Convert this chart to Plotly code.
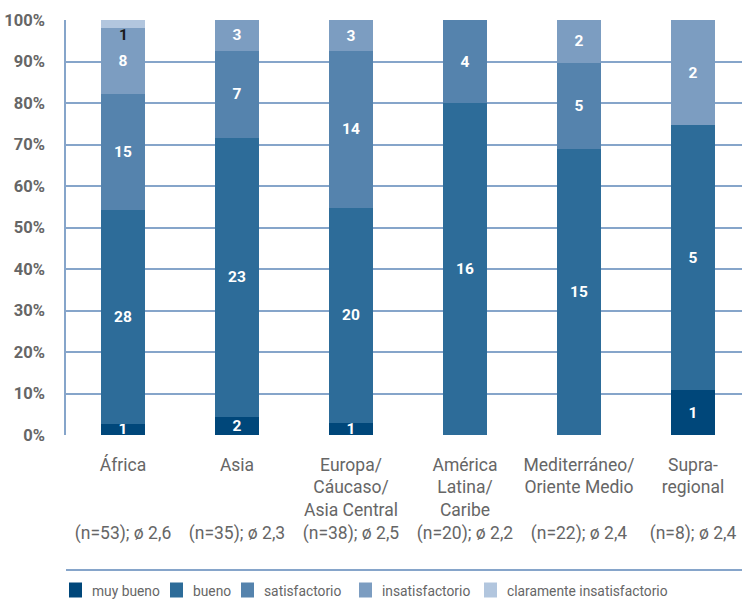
import plotly.graph_objects as go

# ---------------- data ----------------
categories = ["África", "Asia", "Europa/<br>Cáucaso/<br>Asia Central",
              "América<br>Latina/<br>Caribe", "Mediterráneo/<br>Oriente Medio",
              "Supra-<br>regional"]
n_labels = ["(n=53); ø 2,6", "(n=35); ø 2,3", "(n=38); ø 2,5",
            "(n=20); ø 2,2", "(n=22); ø 2,4", "(n=8); ø 2,4"]
series_names = ["muy bueno", "bueno", "satisfactorio", "insatisfactorio",
                "claramente insatisfactorio"]

# share of projects per rating (%)
muy_bueno_pct = [2.7, 4.4, 2.8, 0, 0, 10.8]
bueno_pct = [51.5, 67.2, 52.0, 80.0, 68.9, 63.9]
satisfactorio_pct = [28.0, 21.0, 37.7, 20.0, 20.8, 0]
insatisfactorio_pct = [15.9, 7.4, 7.5, 0, 10.3, 25.3]
claramente_pct = [1.9, 0, 0, 0, 0, 0]

# number of projects (segment labels)
muy_bueno_n = [1, 2, 1, 0, 0, 1]
bueno_n = [28, 23, 20, 16, 15, 5]
satisfactorio_n = [15, 7, 14, 4, 5, 0]
insatisfactorio_n = [8, 3, 3, 0, 2, 2]
claramente_n = [1, 0, 0, 0, 0, 0]

y_ticks = [0, 10, 20, 30, 40, 50, 60, 70, 80, 90, 100]
y_tick_labels = [f"{v}%" for v in y_ticks]

# ---------------- style ----------------
FONT = "Roboto, Liberation Sans, sans-serif"
colors = ["#00477a", "#2d6c99", "#5583ad", "#7c9dc1", "#b2c6de"]
grid_color = "#86a5ca"
text_gray = "#666666"

# plot area in pixels (for placing the hand-drawn legend)
W, H = 742, 608
ML, MR, MT, MB = 66, 0, 20, 173
PW, PH = W - ML - MR, H - MT - MB


def px_x(px):
    return (px - ML) / PW


def px_y(py):
    return (H - MB - py) / PH


legend_square_x = [69, 170, 241, 359, 484]   # left edge of each legend swatch (px)
legend_y = 590                               # vertical centre of legend row (px)
swatch_w, swatch_h = 13, 15

pct_series = [muy_bueno_pct, bueno_pct, satisfactorio_pct, insatisfactorio_pct, claramente_pct]
n_series = [muy_bueno_n, bueno_n, satisfactorio_n, insatisfactorio_n, claramente_n]

x_idx = list(range(len(categories)))

fig = go.Figure()
for i, (name, pct, cnt, col) in enumerate(zip(series_names, pct_series, n_series, colors)):
    inside = i < 4
    fig.add_trace(go.Bar(
        name=name, x=x_idx, y=pct,
        marker=dict(color=col, line=dict(width=0)),
        width=0.392,
        text=[str(c) if (c and inside) else "" for c in cnt],
        textposition="inside", insidetextanchor="middle",
        textangle=0, constraintext="none",
        textfont=dict(family=FONT, size=15.5, color="white", weight="bold"),
        hoverinfo="name+y",
        showlegend=False,
    ))

annotations = []
# label of the thin top segment, written just below it
for xi in x_idx:
    if claramente_n[xi]:
        base = sum(s[xi] for s in pct_series[:4])
        annotations.append(dict(
            x=xi, y=base, xref="x", yref="y", text=str(claramente_n[xi]),
            showarrow=False, yanchor="top", yshift=4,
            font=dict(family=FONT, size=15.5, color="#1a1a1a", weight="bold")))

# legend drawn below the separator line
shapes = [dict(type="line", xref="paper", yref="paper",
               x0=0, x1=1.0, y0=px_y(570), y1=px_y(570),
               line=dict(color=grid_color, width=2))]
for name, col, sx in zip(series_names, colors, legend_square_x):
    shapes.append(dict(type="rect", xref="paper", yref="paper",
                       x0=px_x(sx), x1=px_x(sx + swatch_w),
                       y0=px_y(legend_y + swatch_h / 2), y1=px_y(legend_y - swatch_h / 2),
                       fillcolor=col, line=dict(width=0)))
    annotations.append(dict(x=px_x(sx + 21), y=px_y(legend_y + 1), xref="paper", yref="paper",
                            text=name, showarrow=False, xanchor="left", yanchor="middle",
                            font=dict(family=FONT, size=13.8, color=text_gray)))

# category labels (name lines on top, sample line in the 4th row)
tick_text = []
for cat, nl in zip(categories, n_labels):
    lines = cat.split("<br>")
    lines += [" "] * (3 - len(lines))
    tick_text.append("<br>".join(lines + [nl]))

fig.update_layout(
    width=W, height=H,
    margin=dict(l=ML, r=MR, t=MT, b=MB),
    barmode="stack",
    plot_bgcolor="white", paper_bgcolor="white",
    font=dict(family=FONT, color=text_gray),
    showlegend=False,
    annotations=annotations,
    shapes=shapes,
    xaxis=dict(range=[-0.5, 5.43], tickvals=x_idx, ticktext=tick_text,
               showgrid=False, zeroline=False, showline=False,
               tickfont=dict(family=FONT, size=17.5, color=text_gray),
               ticks="", ticklabelstandoff=17, fixedrange=True),
    yaxis=dict(range=[0, 100], tickvals=y_ticks, ticktext=y_tick_labels,
               showgrid=True, gridcolor=grid_color, gridwidth=1.5,
               zeroline=False, showline=True, linecolor=grid_color, linewidth=1.5,
               ticks="", ticklabelstandoff=16,
               tickfont=dict(family=FONT, size=16.5, color=text_gray, weight="bold"),
               fixedrange=True),
)

fig.write_html("out.html")
